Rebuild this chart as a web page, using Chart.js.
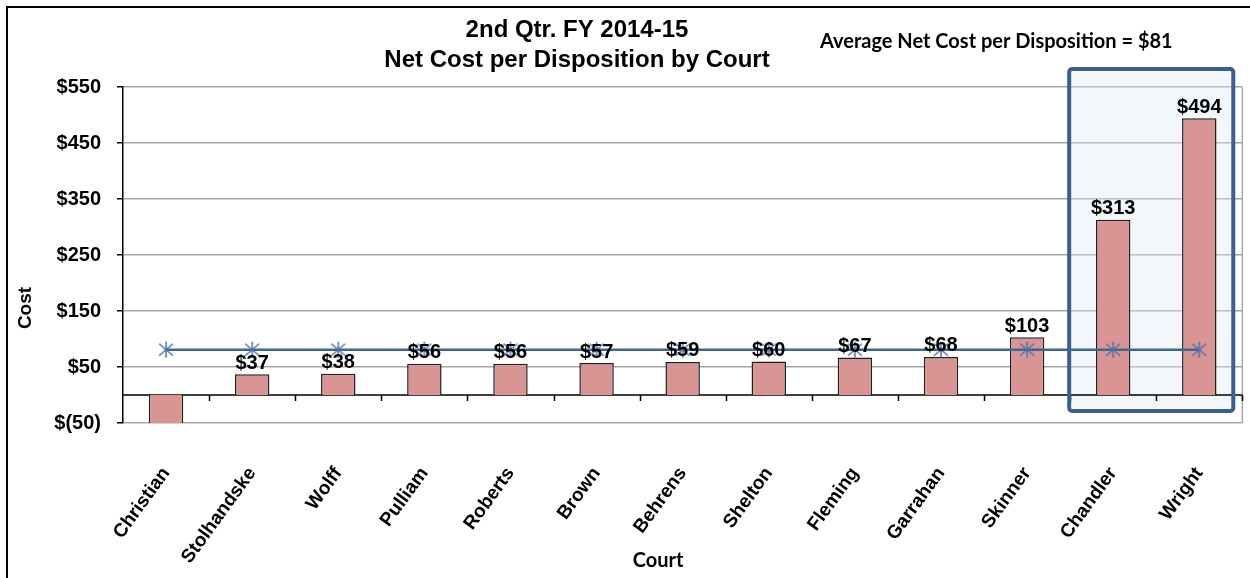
<!DOCTYPE html>
<html>
<head>
<meta charset="utf-8">
<script src="https://cdn.jsdelivr.net/npm/chart.js@4.4.1/dist/chart.umd.min.js"></script>
<style>
  html, body { margin: 0; padding: 0; background: #fff; overflow: hidden; }
  #wrap { position: relative; width: 1250px; height: 578px; }
  #frame { position: absolute; left: 6px; top: 6px; width: 1300px; height: 600px;
           border-left: 2px solid #000; border-top: 2px solid #000; pointer-events: none; }
</style>
</head>
<body>
<div id="wrap">
  <canvas id="costChart" width="1250" height="578"></canvas>
  <div id="frame"></div>
</div>
<script>
// data
const courts = ['Christian', 'Stolhandske', 'Wolff', 'Pulliam', 'Roberts', 'Brown', 'Behrens',
                'Shelton', 'Fleming', 'Garrahan', 'Skinner', 'Chandler', 'Wright'];
const netCost = [-60, 37, 38, 56, 56, 57, 59, 60, 67, 68, 103, 313, 494];
const avgCost = [81, 81, 81, 81, 81, 81, 81, 81, 81, 81, 81, 81, 81];
const titleLines = ['2nd Qtr. FY 2014-15', 'Net Cost per Disposition by Court'];
const avgNote = 'Average Net Cost per Disposition = $81';
const highlighted = ['Chandler', 'Wright'];
const yMin = -50, yMax = 550, yStep = 100;

const money = v => v < 0 ? '$(' + (-v) + ')' : '$' + v;
const ARIAL = '"Liberation Sans", Arial, sans-serif';

// asterisk marker like the Excel "star"
function starMarker(color) {
    const c = document.createElement('canvas');
    c.width = 18; c.height = 18;
    const g = c.getContext('2d');
    g.strokeStyle = color;
    g.lineWidth = 1.5;
    g.beginPath();
    g.moveTo(9, 1); g.lineTo(9, 17);
    g.moveTo(2, 3); g.lineTo(16, 15);
    g.moveTo(16, 3); g.lineTo(2, 15);
    g.stroke();
    return c;
}

const decor = {
    id: 'decor',
    beforeDatasetsDraw(chart) {
        const { ctx, chartArea: a, scales: { x, y } } = chart;
        const half = x.width / courts.length / 2;
        ctx.save();

        // highlight box round the two biggest courts
        const i0 = courts.indexOf(highlighted[0]), i1 = courts.indexOf(highlighted[1]);
        const bx0 = x.getPixelForValue(i0) - 44, bx1 = x.getPixelForValue(i1) + 34;
        const by0 = a.top - 18, by1 = a.bottom - 12;
        ctx.fillStyle = 'rgba(225,235,246,0.4)';
        ctx.fillRect(bx0, by0, bx1 - bx0, by1 - by0);

        // right edge of plot area
        ctx.strokeStyle = '#a6a6a6';
        ctx.lineWidth = 1.5;
        ctx.beginPath();
        ctx.moveTo(a.right, a.top); ctx.lineTo(a.right, a.bottom);
        ctx.stroke();

        // zero line with tick marks between courts
        const y0 = y.getPixelForValue(0);
        ctx.strokeStyle = '#000';
        ctx.lineWidth = 1.5;
        ctx.beginPath();
        ctx.moveTo(a.left, y0); ctx.lineTo(a.right, y0);
        for (let i = 1; i <= courts.length; i++) {
            const px = Math.round(x.getPixelForValue(i) - half) + 0.5;
            ctx.moveTo(px, y0); ctx.lineTo(px, y0 + 6);
        }
        ctx.stroke();

        ctx.strokeStyle = '#3d5f8d';
        ctx.lineWidth = 4;
        ctx.beginPath();
        ctx.roundRect(bx0, by0, bx1 - bx0, by1 - by0, 3);
        ctx.stroke();
        ctx.restore();
    },
    afterDatasetsDraw(chart) {
        const { ctx } = chart;
        const bars = chart.getDatasetMeta(1).data;
        ctx.save();
        ctx.font = 'bold 20px ' + ARIAL;
        ctx.fillStyle = '#000';
        ctx.textAlign = 'center';
        ctx.textBaseline = 'bottom';
        bars.forEach((bar, i) => {
            if (netCost[i] < 0) return;
            ctx.fillText(money(netCost[i]), bar.x, bar.y - 1);
        });
        ctx.restore();
    },
    afterDraw(chart) {
        const { ctx } = chart;
        ctx.save();
        ctx.fillStyle = '#000';
        ctx.textBaseline = 'middle';
        ctx.textAlign = 'center';
        ctx.font = 'bold 24px ' + ARIAL;
        ctx.fillText(titleLines[0], 577, 30, 290);
        ctx.fillText(titleLines[1], 577, 60, 396);

        ctx.textAlign = 'left';
        ctx.font = 'bold 20px Lato, "Open Sans", sans-serif';
        ctx.fillText(avgNote, 820, 42, 363);

        ctx.textAlign = 'center';
        ctx.font = 'bold 20px Lato, "Open Sans", sans-serif';
        ctx.fillText('Court', 658, 561);

        ctx.translate(26, 308);
        ctx.rotate(-Math.PI / 2);
        ctx.font = 'bold 19px ' + ARIAL;
        ctx.fillText('Cost', 0, 0);
        ctx.restore();
    }
};

new Chart(document.getElementById('costChart'), {
    data: {
        labels: courts,
        datasets: [
            {
                type: 'line',
                label: 'Average',
                data: avgCost,
                borderColor: '#3f6592',
                borderWidth: 2.5,
                pointStyle: starMarker('#4f74a8'),
                order: 0
            },
            {
                type: 'bar',
                label: 'Net Cost',
                data: netCost,
                backgroundColor: '#d99594',
                borderColor: '#1f1f1f',
                borderWidth: 1.5,
                barPercentage: 0.4,
                categoryPercentage: 1.0,
                clip: 0,
                order: 1
            }
        ]
    },
    options: {
        responsive: false,
        animation: false,
        layout: { padding: { left: 7, right: 7, top: 87, bottom: 0 } },
        plugins: {
            legend: { display: false },
            tooltip: { enabled: false }
        },
        scales: {
            x: {
                grid: { display: false },
                border: { display: false },
                afterFit: s => { s.height = 155; },
                ticks: {
                    autoSkip: false,
                    maxRotation: 54,
                    minRotation: 54,
                    padding: 32,
                    color: '#000',
                    font: { family: ARIAL, size: 19, weight: 'bold' }
                }
            },
            y: {
                min: yMin,
                max: yMax,
                afterFit: s => { s.width = 116; },
                grid: { color: '#a6a6a6', lineWidth: 1.5, tickColor: '#000', tickLength: 6 },
                border: { color: '#000', width: 1.5 },
                ticks: {
                    stepSize: yStep,
                    padding: 16,
                    color: '#000',
                    callback: v => money(v),
                    font: { family: ARIAL, size: 20, weight: 'bold' }
                }
            }
        }
    },
    plugins: [decor]
});
</script>
</body>
</html>
